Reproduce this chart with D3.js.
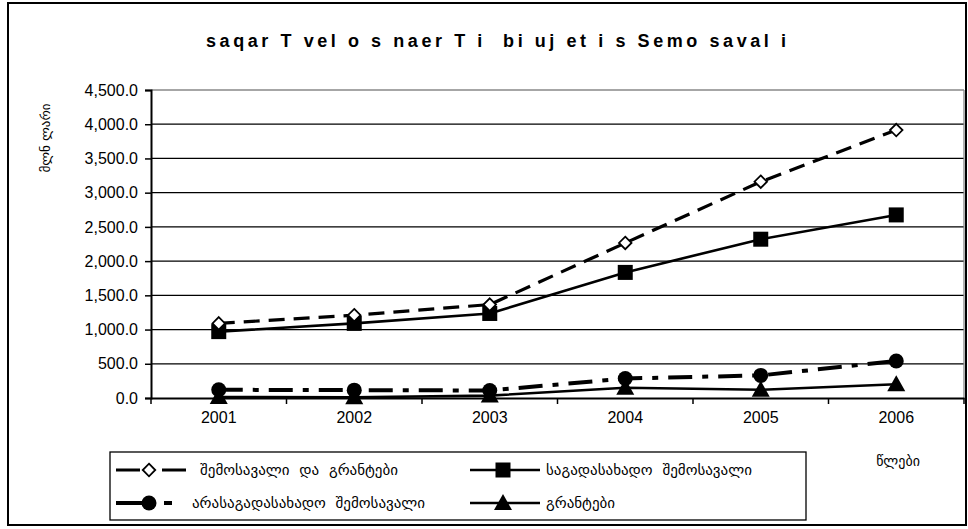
<!DOCTYPE html>
<html><head><meta charset="utf-8">
<script src="https://cdn.jsdelivr.net/npm/d3@7"></script>
<style>body{margin:0;background:#fff}svg{display:block}</style>
</head><body>
<svg id="c" width="968" height="529"></svg>
<script>
const years = ["2001","2002","2003","2004","2005","2006"];
const totalRevenue = [1090, 1210, 1365, 2265, 3160, 3915];
const taxRevenue = [970, 1090, 1235, 1835, 2320, 2675];
const nonTaxRevenue = [120, 115, 110, 285, 330, 540];
const grants = [15, 10, 35, 150, 120, 200];
const yTicks = [0,500,1000,1500,2000,2500,3000,3500,4000,4500];
const seriesNames = ["შემოსავალი და გრანტები","საგადასახადო შემოსავალი","არასაგადასახადო შემოსავალი","გრანტები"];
const titleText = "saqar T vel o s naer T i  bi uj et i s Semo saval i";
const yLabel = "მლნ ლარი";
const xLabel = "წლები";

const svg = d3.select("#c");
svg.append("rect").attr("x",8).attr("y",3).attr("width",958).attr("height",522)
  .attr("fill","#fff").attr("stroke","#000").attr("stroke-width",2);

const L=151,R=964,T=90,B=398;
const x = d3.scaleBand().domain(years).range([L,R]);
const y = d3.scaleLinear().domain([0,4500]).range([B,T]);
const cx = d=>x(d)+x.bandwidth()/2;

const g = svg.append("g");
g.selectAll("line.grid").data(yTicks.filter(v=>v>0)).join("line")
 .attr("x1",L).attr("x2",R).attr("y1",d=>y(d)).attr("y2",d=>y(d))
 .attr("stroke",d=>d===4500?"#888":"#000").attr("stroke-width",1.3);
g.append("line").attr("x1",R).attr("x2",R).attr("y1",T).attr("y2",B).attr("stroke","#888").attr("stroke-width",1.3);

const yAxis = d3.axisLeft(y).tickValues(yTicks).tickSize(6).tickFormat(d3.format(",.1f"));
const ya = svg.append("g").attr("transform",`translate(${L},0)`).call(yAxis);
ya.select(".domain").attr("stroke-width",2);
ya.selectAll(".tick line").attr("stroke-width",1.5);
ya.selectAll("text").attr("font-family","Liberation Sans, Arial").attr("font-size",16).attr("fill","#000").attr("dx",-4);

const xAxis = d3.axisBottom(x).tickSize(0).tickPadding(14);
const xa = svg.append("g").attr("transform",`translate(0,${B})`).call(xAxis);
xa.select(".domain").attr("stroke-width",2);
xa.selectAll("text").attr("font-family","Liberation Sans, Arial").attr("font-size",16).attr("fill","#000");
const bounds = years.map(d=>x(d)).concat([R]);
xa.selectAll("line.bt").data(bounds).join("line").attr("class","bt")
  .attr("x1",d=>d).attr("x2",d=>d).attr("y1",0).attr("y2",6).attr("stroke","#000").attr("stroke-width",1.5);

const lineGen = arr => d3.line().x((d,i)=>cx(years[i])).y(d=>y(d))(arr);
const series = [
  {data: totalRevenue, dash:"16,9", w:3.2, marker:"diamond"},
  {data: taxRevenue, dash:null, w:2.6, marker:"square"},
  {data: nonTaxRevenue, dash:"24,10,6,10", w:4, marker:"circle"},
  {data: grants, dash:null, w:2.6, marker:"triangle"}
];
function drawMarker(sel, type, px, py){
  if(type==="diamond") sel.append("path").attr("d",d3.symbol(d3.symbolDiamond2,100)()).attr("transform",`translate(${px},${py})`).attr("fill","#fff").attr("stroke","#000").attr("stroke-width",1.8);
  if(type==="square") sel.append("rect").attr("x",px-7.5).attr("y",py-7.5).attr("width",15).attr("height",15).attr("fill","#000");
  if(type==="circle") sel.append("circle").attr("cx",px).attr("cy",py).attr("r",7.5).attr("fill","#000");
  if(type==="triangle") sel.append("path").attr("d",`M${px},${py-9}L${px+9},${py+7}L${px-9},${py+7}Z`).attr("fill","#000");
}
const order=[3,2,1,0];
order.forEach(k=>{
  const s=series[k];
  g.append("path").attr("d",lineGen(s.data)).attr("fill","none").attr("stroke","#000")
   .attr("stroke-width",s.w).attr("stroke-dasharray",s.dash);
});
order.forEach(k=>{
  const s=series[k];
  s.data.forEach((v,i)=>drawMarker(g,s.marker,cx(years[i]),y(v)));
});

svg.append("text").attr("x",496).attr("y",47).attr("text-anchor","middle")
  .attr("font-family","Liberation Sans, Arial").attr("font-weight","bold").attr("font-size",18)
  .attr("textLength",580).attr("lengthAdjust","spacing")
  .style("white-space","pre").text(titleText);
svg.append("text").attr("transform","translate(50,138) rotate(-90)").attr("text-anchor","middle")
  .attr("font-family","DejaVu Sans").attr("font-size",13).text(yLabel);
svg.append("text").attr("x",898).attr("y",466).attr("text-anchor","middle")
  .attr("font-family","DejaVu Sans").attr("font-size",14).text(xLabel);

const lg = svg.append("g");
lg.append("rect").attr("x",110).attr("y",452).attr("width",696).attr("height",68).attr("fill","#fff").attr("stroke","#000").attr("stroke-width",1.3);
const legPos = [[116,470],[470,470],[116,503],[470,503]];
const legDash = ["24,22,24", null, "26,22,8,20", null];
const textOff = [84,76,76,76];
series.forEach((s,k)=>{
  const [lx,ly]=legPos[k];
  lg.append("line").attr("x1",lx).attr("x2",lx+70).attr("y1",ly).attr("y2",ly).attr("stroke","#000")
    .attr("stroke-width",s.w).attr("stroke-dasharray",legDash[k]);
  drawMarker(lg,s.marker,lx+33,ly);
  lg.append("text").attr("x",lx+textOff[k]).attr("y",ly+5).attr("font-family","DejaVu Sans").attr("font-size",15)
    .attr("word-spacing",5).text(seriesNames[k]);
});
</script>
</body></html>
